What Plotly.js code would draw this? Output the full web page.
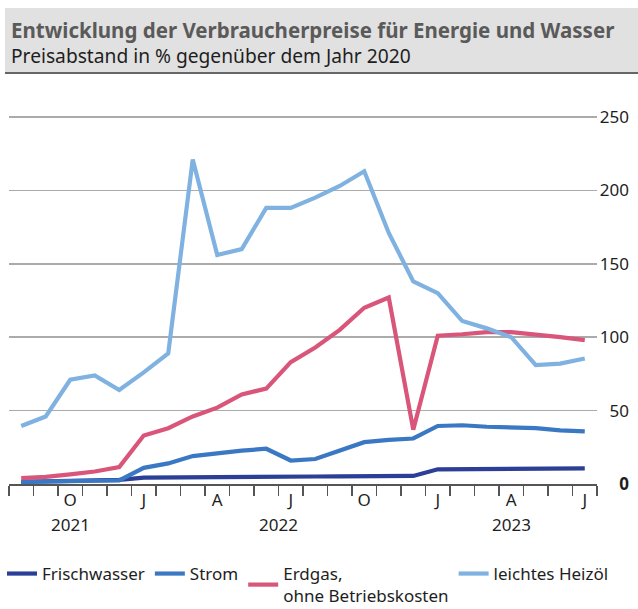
<!DOCTYPE html>
<html>
<head>
<meta charset="utf-8">
<script src="https://cdn.plot.ly/plotly-3.0.1.min.js"></script>
<style>
html,body{margin:0;padding:0;background:#fff;}
#chart{width:638px;height:609px;}
</style>
</head>
<body>
<div id="chart"></div>
<script>
// Months: Aug 2021 .. Jul 2023 (index 0..23)
const monthIndex = [0,1,2,3,4,5,6,7,8,9,10,11,12,13,14,15,16,17,18,19,20,21,22,23];
const quarterTickVals = [2,5,8,11,14,17,20,23];
const quarterTickText = ["O","J","A","J","O","J","A","J"];
const yearLabels = ["2021","2022","2023"];
const yearCenters = [2,10.5,20];
const yearBoundaries = [4.5,16.5];

const frischwasser = [1.5,2,2.3,2.6,2.8,4.3,4.5,4.7,4.8,4.9,5,5,5.1,5.2,5.3,5.4,5.5,10,10.2,10.3,10.5,10.6,10.6,10.7];
const strom        = [1.5,2,2,2.2,2.5,11,14,19,21,22.7,24,16,17,22.5,28.5,30,31,39.5,40,39,38.8,38,36.5,35.8];
const erdgas       = [4,4.8,6.5,8.5,11.5,33,38,46,52,61,65,83,93,105,120,127,37,101,102,103.5,103.5,102,100,98];
const heizoel      = [39.5,46,71,74,64,76,89,221,156,160,188,188,195,203,213,171,138,130,111,106,100,81,82,85.5];

const yTickVals = [0,50,100,150,200,250];
const yTickText = ["<b>0</b>","50","100","150","200","250"];

const seriesNames = ["Frischwasser","Strom","Erdgas,<br>ohne Betriebskosten","leichtes Heizöl"];
const seriesData = [frischwasser, strom, erdgas, heizoel];
const seriesColors = ["#2b3f97","#3b78c3","#d9557a","#7fb2e1"];

const FONT = "Noto Sans, sans-serif";

const traces = seriesData.map((d,i)=>({
  type:"scatter", mode:"lines", x: monthIndex, y: d, name: seriesNames[i],
  line:{color: seriesColors[i], width:4.2, shape:"linear"},
  hoverinfo:"skip"
}));

const W=638, H=609, ml=9, mr=6, mb=125;
const yMax = 252;
// top of plot so that 250 lands at y=116.5 and 0 at y=484
const unit = (484-116.5)/250;
const mt = Math.round(484 - unit*yMax);
const pw = W-ml-mr, ph = H-mt-mb;
const px = v => (v-ml)/pw;          // pixel x -> paper
const py = v => (H-mb-v)/ph;        // pixel y -> paper

const shapes = [
  {type:"rect", xref:"paper", yref:"paper", x0:px(5), x1:px(640), y0:py(73), y1:py(8),
   fillcolor:"#e1e1e1", line:{width:0}, layer:"below"},
  {type:"line", xref:"paper", yref:"paper", x0:px(5), x1:px(640), y0:py(73), y1:py(73),
   line:{color:"#666", width:2}}
];
yearBoundaries.forEach(b=>{
  shapes.push({type:"line", xref:"x", yref:"y", ysizemode:"pixel", yanchor:0,
    x0:b, x1:b, y0:0, y1:-29, line:{color:"#555", width:1.5}});
});

const annotations = [
  {xref:"paper", yref:"paper", x:px(10), y:py(30), xanchor:"left", yanchor:"middle", showarrow:false,
   borderpad:0, text:"<b>Entwicklung der Verbraucherpreise für Energie und Wasser</b>",
   font:{family:FONT, size:20.5, color:"#5a5a5a"}},
  {xref:"paper", yref:"paper", x:px(10), y:py(55), xanchor:"left", yanchor:"middle", showarrow:false,
   borderpad:0, text:"Preisabstand in % gegenüber dem Jahr 2020",
   font:{family:FONT, size:19.2, color:"#1e1e1e"}}
];
yearLabels.forEach((t,i)=>{
  annotations.push({xref:"x", yref:"paper", x:yearCenters[i], y:py(524), xanchor:"center", yanchor:"middle",
    showarrow:false, text:t, font:{family:FONT, size:17, color:"#1e1e1e"}});
});

const layout = {
  width:W, height:H, margin:{l:ml, r:mr, t:mt, b:mb, pad:0, autoexpand:false},
  paper_bgcolor:"#fff", plot_bgcolor:"#fff",
  font:{family:FONT, size:16, color:"#1e1e1e"},
  showlegend:true,
  legend:{orientation:"h", x:px(2), y:py(556), xanchor:"left", yanchor:"top",
    font:{family:FONT, size:17, color:"#1e1e1e"}, traceorder:"normal", itemwidth:30,
    tracegroupgap:0, valign:"middle"},
  xaxis:{domain:[0, (597-ml)/pw], range:[-0.499,23.499], showgrid:false, zeroline:false, fixedrange:true, automargin:false,
    showline:true, linecolor:"#555", linewidth:2,
    tickmode:"array", tickvals:quarterTickVals, ticktext:quarterTickText, ticks:"outside", ticklen:0,
    tickfont:{family:FONT, size:17, color:"#1e1e1e"},
    minor:{tick0:0.5, dtick:1, ticks:"outside", ticklen:10, tickcolor:"#555", tickwidth:1.5, showgrid:false}
  },
  yaxis:{range:[0,yMax], side:"right", anchor:"free", position:1,
    ticklabelposition:"inside", ticklabeloverflow:"allow", showgrid:true, gridcolor:"#ababab", gridwidth:1.5, automargin:false,
    zeroline:false, showline:false, ticks:"",
    tickmode:"array", tickvals:yTickVals, ticktext:yTickText, fixedrange:true,
    tickfont:{family:FONT, size:17, color:"#1e1e1e"}},
  shapes:shapes, annotations:annotations
};

Plotly.newPlot("chart", traces, layout, {displayModeBar:false, staticPlot:true});
</script>
</body>
</html>
